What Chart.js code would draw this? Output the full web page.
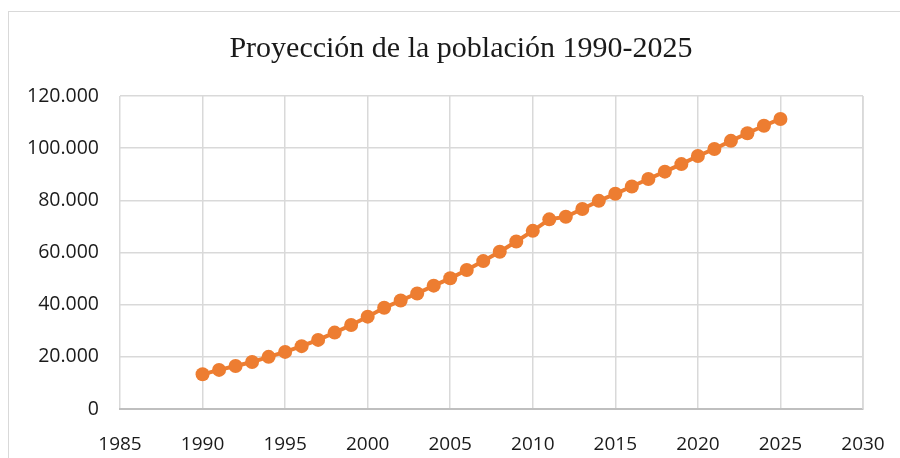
<!DOCTYPE html>
<html>
<head>
<meta charset="utf-8">
<script src="https://cdn.jsdelivr.net/npm/chart.js@4.4.1/dist/chart.umd.min.js"></script>
<style>
  html, body { margin: 0; padding: 0; background: #fff; overflow: hidden; }
  #frame { position: absolute; left: 8px; top: 11px; width: 1000px; height: 1000px; border: 1px solid #d9d9d9; }
  #wrap { position: absolute; left: 0; top: 0; width: 900px; height: 458px; }
</style>
</head>
<body>
<div id="frame"></div>
<div id="wrap"><canvas id="c" width="900" height="458"></canvas></div>
<script>
const years = [1990,1991,1992,1993,1994,1995,1996,1997,1998,1999,2000,2001,2002,2003,2004,2005,2006,2007,2008,2009,2010,2011,2012,2013,2014,2015,2016,2017,2018,2019,2020,2021,2022,2023,2024,2025];
const population = [13300,15000,16500,18000,20000,21900,24100,26500,29300,32200,35400,38800,41600,44300,47300,50100,53300,56700,60300,64200,68300,72700,73700,76700,79800,82500,85300,88200,91000,93900,97000,99700,102800,105700,108600,111200];
const chartTitle = 'Proyección de la población 1990-2025';
const xMin = 1985, xMax = 2030, xStep = 5;
const yMin = 0, yMax = 120000, yStep = 20000;

const points = years.map((y, i) => ({ x: y, y: population[i] }));

new Chart(document.getElementById('c'), {
  type: 'scatter',
  data: {
    datasets: [{
      data: points,
      showLine: true,
      borderColor: '#ED7D31',
      backgroundColor: '#ED7D31',
      borderWidth: 4,
      pointRadius: 7,
      pointHoverRadius: 7,
      pointBorderWidth: 0
    }]
  },
  options: {
    responsive: false,
    animation: false,
    layout: { padding: { left: 10, right: 37, top: 96, bottom: 0 } },
    plugins: {
      legend: { display: false },
      tooltip: { enabled: false },
      title: { display: false }
    },
    scales: {
      x: {
        type: 'linear',
        min: xMin, max: xMax,
        ticks: {
          stepSize: xStep,
          color: '#1a1a1a',
          padding: 24,
          font: { family: '"Open Sans", sans-serif', size: 19 },
          callback: v => String(v)
        },
        grid: { color: '#d9d9d9', lineWidth: 1.5, drawTicks: false },
        border: { color: '#bfbfbf', width: 2 },
        afterFit: s => { s.height = 49; s.paddingLeft = 0; s.paddingRight = 0; }
      },
      y: {
        min: yMin, max: yMax,
        ticks: {
          stepSize: yStep,
          color: '#1a1a1a',
          padding: 21,
          font: { family: '"Open Sans", sans-serif', size: 19.5 },
          callback: v => v === 0 ? '0' : (v / 1000).toFixed(0) + '.000'
        },
        grid: { color: '#d9d9d9', lineWidth: 1.5, drawTicks: false },
        border: { display: false },
        afterFit: s => { s.width = 110; s.paddingTop = 0; s.paddingBottom = 0; }
      }
    }
  },
  plugins: [{
    id: 'rightEdgeAndTitle',
    afterDraw(chart) {
      const { ctx, chartArea } = chart;
      ctx.save();
      ctx.strokeStyle = '#d9d9d9';
      ctx.lineWidth = 1.5;
      ctx.beginPath();
      ctx.moveTo(chartArea.right, chartArea.top);
      ctx.lineTo(chartArea.right, chartArea.bottom);
      ctx.stroke();
      ctx.fillStyle = '#1a1a1a';
      ctx.font = '30px "Liberation Serif", "Times New Roman", serif';
      ctx.textAlign = 'center';
      ctx.textBaseline = 'alphabetic';
      ctx.fillText(chartTitle, 461, 57);
      ctx.restore();
    }
  }]
});
</script>
</body>
</html>
